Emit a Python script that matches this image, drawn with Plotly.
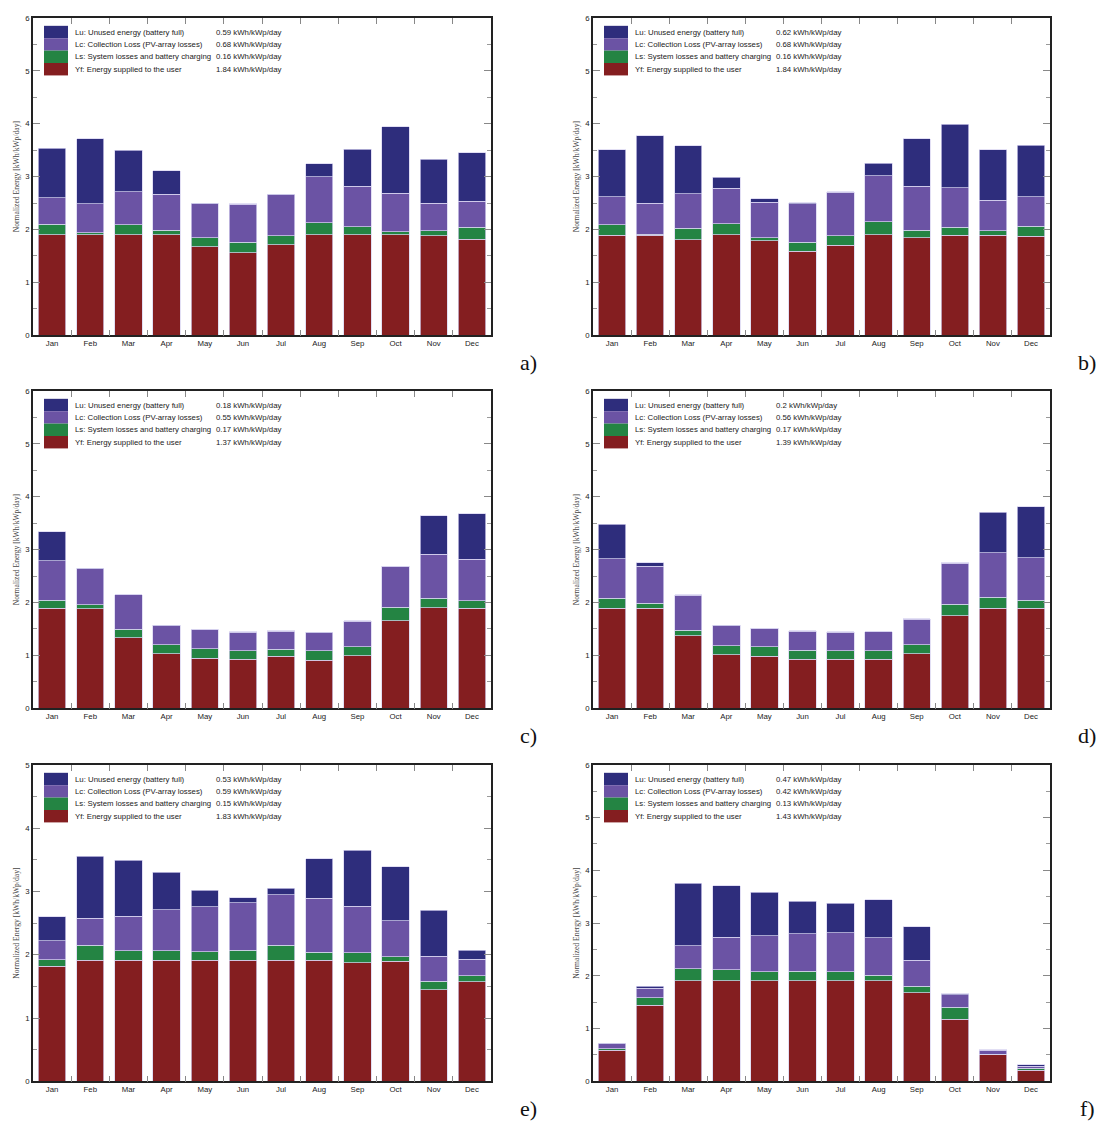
import plotly.graph_objects as go

# Month categories shared by every panel
MONTHS = ["Jan", "Feb", "Mar", "Apr", "May", "Jun",
          "Jul", "Aug", "Sep", "Oct", "Nov", "Dec"]

# Normalized energy components [kWh/kWp/day], stacked bottom-to-top: Yf, Ls, Lc, Lu
# Panel a
yf_a = [1.90, 1.90, 1.90, 1.90, 1.67, 1.56, 1.71, 1.90, 1.90, 1.90, 1.88, 1.82]
ls_a = [0.20, 0.04, 0.19, 0.09, 0.17, 0.20, 0.17, 0.23, 0.15, 0.06, 0.10, 0.22]
lc_a = [0.50, 0.55, 0.62, 0.68, 0.65, 0.72, 0.78, 0.87, 0.77, 0.73, 0.52, 0.49]
lu_a = [0.94, 1.23, 0.79, 0.44, 0.01, 0.01, 0.01, 0.24, 0.70, 1.25, 0.83, 0.92]
# Panel b
yf_b = [1.89, 1.89, 1.81, 1.90, 1.79, 1.59, 1.70, 1.90, 1.84, 1.89, 1.89, 1.87]
ls_b = [0.20, 0.02, 0.21, 0.21, 0.05, 0.17, 0.18, 0.25, 0.15, 0.15, 0.09, 0.19]
lc_b = [0.53, 0.59, 0.66, 0.67, 0.68, 0.73, 0.82, 0.87, 0.83, 0.75, 0.57, 0.56]
lu_b = [0.89, 1.27, 0.90, 0.21, 0.06, 0.02, 0.01, 0.23, 0.90, 1.20, 0.96, 0.97]
# Panel c
yf_c = [1.89, 1.88, 1.33, 1.03, 0.95, 0.93, 0.98, 0.91, 0.99, 1.66, 1.90, 1.89]
ls_c = [0.15, 0.08, 0.16, 0.17, 0.18, 0.16, 0.14, 0.18, 0.17, 0.25, 0.18, 0.14]
lc_c = [0.75, 0.68, 0.66, 0.36, 0.36, 0.35, 0.34, 0.34, 0.49, 0.78, 0.83, 0.79]
lu_c = [0.55, 0.01, 0.00, 0.01, 0.00, 0.01, 0.01, 0.01, 0.01, 0.00, 0.73, 0.86]
# Panel d
yf_d = [1.89, 1.89, 1.37, 1.01, 0.98, 0.93, 0.93, 0.93, 1.03, 1.75, 1.89, 1.89]
ls_d = [0.19, 0.10, 0.11, 0.17, 0.18, 0.17, 0.16, 0.16, 0.17, 0.22, 0.21, 0.15]
lc_d = [0.75, 0.70, 0.66, 0.38, 0.35, 0.36, 0.35, 0.36, 0.48, 0.77, 0.84, 0.81]
lu_d = [0.65, 0.06, 0.01, 0.01, 0.00, 0.01, 0.01, 0.00, 0.01, 0.01, 0.77, 0.96]
# Panel e
yf_e = [1.82, 1.91, 1.91, 1.91, 1.91, 1.91, 1.91, 1.91, 1.87, 1.90, 1.45, 1.57]
ls_e = [0.10, 0.24, 0.15, 0.15, 0.14, 0.16, 0.24, 0.13, 0.16, 0.07, 0.13, 0.10]
lc_e = [0.30, 0.43, 0.55, 0.65, 0.71, 0.75, 0.80, 0.85, 0.74, 0.57, 0.40, 0.26]
lu_e = [0.38, 0.98, 0.88, 0.59, 0.26, 0.08, 0.10, 0.63, 0.88, 0.85, 0.72, 0.14]
# Panel f
yf_f = [0.59, 1.44, 1.91, 1.91, 1.91, 1.91, 1.91, 1.91, 1.68, 1.18, 0.50, 0.21]
ls_f = [0.03, 0.14, 0.22, 0.21, 0.17, 0.18, 0.17, 0.10, 0.12, 0.22, 0.01, 0.04]
lc_f = [0.09, 0.18, 0.44, 0.61, 0.68, 0.71, 0.74, 0.71, 0.50, 0.24, 0.08, 0.04]
lu_f = [0.01, 0.04, 1.19, 0.98, 0.82, 0.61, 0.56, 0.72, 0.63, 0.02, 0.01, 0.02]

# Yearly averages shown in each panel's key: Lu, Lc, Ls, Yf
avg_a = [0.59, 0.68, 0.16, 1.84]
avg_b = [0.62, 0.68, 0.16, 1.84]
avg_c = [0.18, 0.55, 0.17, 1.37]
avg_d = [0.2, 0.56, 0.17, 1.39]
avg_e = [0.53, 0.59, 0.15, 1.83]
avg_f = [0.47, 0.42, 0.13, 1.43]

KEY_LABELS = ["Lu: Unused energy (battery full)",
              "Lc: Collection Loss (PV-array losses)",
              "Ls: System losses and battery charging",
              "Yf: Energy supplied to the user"]
PANEL_TAGS = ["a)", "b)", "c)", "d)", "e)", "f)"]
Y_MAX = [6, 6, 6, 6, 5, 6]

C_LU = "#2e2d7c"
C_LC = "#6b53a4"
C_LS = "#248443"
C_YF = "#841e20"
KEY_COLORS = [C_LU, C_LC, C_LS, C_YF]

W, H = 1100, 1126
COL_X = [(33, 491), (593, 1050)]
ROW_Y = [(14, 334), (390, 710), (767, 1086)]

panels = [
    (yf_a, ls_a, lc_a, lu_a, avg_a),
    (yf_b, ls_b, lc_b, lu_b, avg_b),
    (yf_c, ls_c, lc_c, lu_c, avg_c),
    (yf_d, ls_d, lc_d, lu_d, avg_d),
    (yf_e, ls_e, lc_e, lu_e, avg_e),
    (yf_f, ls_f, lc_f, lu_f, avg_f),
]

fig = go.Figure()
layout = dict(
    width=W, height=H,
    margin=dict(l=0, r=0, t=0, b=0),
    paper_bgcolor="white", plot_bgcolor="white",
    barmode="stack", bargap=0.28, showlegend=False,
    font=dict(family="Liberation Sans, Arial, sans-serif", color="#222"),
)
annotations = []
shapes = []

SANS = "Liberation Sans, Arial, sans-serif"
SERIF = "Liberation Serif, Times New Roman, serif"

for i, (yf, ls, lc, lu, avg) in enumerate(panels):
    row, col = divmod(i, 2)
    x0, x1 = COL_X[col]
    ytop, ybot = ROW_Y[row]
    pw, ph = x1 - x0, ybot - ytop
    sfx = "" if i == 0 else str(i + 1)
    xa, ya = "x" + sfx, "y" + sfx

    for vals, color in ((yf, C_YF), (ls, C_LS), (lc, C_LC), (lu, C_LU)):
        fig.add_trace(go.Bar(
            x=MONTHS, y=vals, xaxis=xa, yaxis=ya,
            marker=dict(color=color, line=dict(color="rgba(215,210,240,0.9)", width=0.8)),
            hoverinfo="skip",
        ))

    layout["xaxis" + sfx] = dict(
        domain=[x0 / W, x1 / W], anchor=ya,
        type="category", categoryorder="array", categoryarray=MONTHS,
        range=[-0.5, 11.5], tickson="boundaries",
        ticks="inside", ticklen=6, tickcolor="#888", tickwidth=1,
        showline=True, linecolor="#222", linewidth=1.6, mirror="ticks",
        showgrid=False, zeroline=False,
        tickfont=dict(size=7.8, family=SANS, color="#222"),
    )
    layout["yaxis" + sfx] = dict(
        domain=[1 - ybot / H, 1 - ytop / H], anchor=xa,
        range=[0, Y_MAX[i]], dtick=1, tick0=0,
        ticks="inside", ticklen=7, tickcolor="#888", tickwidth=1,
        minor=dict(dtick=0.5, ticks="inside", ticklen=4, tickcolor="#999"),
        showline=True, linecolor="#222", linewidth=1.6, mirror="ticks",
        showgrid=False, zeroline=False,
        tickfont=dict(size=7.8, family=SANS, color="#222"),
        title=dict(text="Normalized Energy [kWh/kWp/day]",
                   font=dict(size=7.6, family=SERIF, color="#444"), standoff=5),
    )

    # Key: stacked colour swatches with labels and yearly averages
    xd, yd = xa + " domain", ya + " domain"
    sw_l, sw_r = 11 / pw, 35 / pw
    row_h = 12.5
    for k in range(4):
        t = 8 + k * row_h
        shapes.append(dict(
            type="rect", xref=xd, yref=yd,
            x0=sw_l, x1=sw_r, y0=1 - (t + row_h) / ph, y1=1 - t / ph,
            fillcolor=KEY_COLORS[k], line=dict(width=0), layer="above",
        ))
        yc = 1 - (t + row_h / 2) / ph
        annotations.append(dict(
            xref=xd, yref=yd, x=40 / pw, y=yc, text=KEY_LABELS[k],
            showarrow=False, xanchor="left", yanchor="middle",
            font=dict(size=7.8, family=SANS, color="#222"),
        ))
        annotations.append(dict(
            xref=xd, yref=yd, x=181 / pw, y=yc, text=f"{avg[k]:g} kWh/kWp/day",
            showarrow=False, xanchor="left", yanchor="middle",
            font=dict(size=7.8, family=SANS, color="#222"),
        ))

    # Panel tag below the bottom-right corner
    annotations.append(dict(
        xref="paper", yref="paper", x=(x1 + 37) / W, y=1 - (ybot + 27) / H,
        text=PANEL_TAGS[i], showarrow=False, xanchor="center", yanchor="middle",
        font=dict(size=22, family=SERIF, color="#111"),
    ))

layout["annotations"] = annotations
layout["shapes"] = shapes
fig.update_layout(**layout)
fig.write_html("out.html")
